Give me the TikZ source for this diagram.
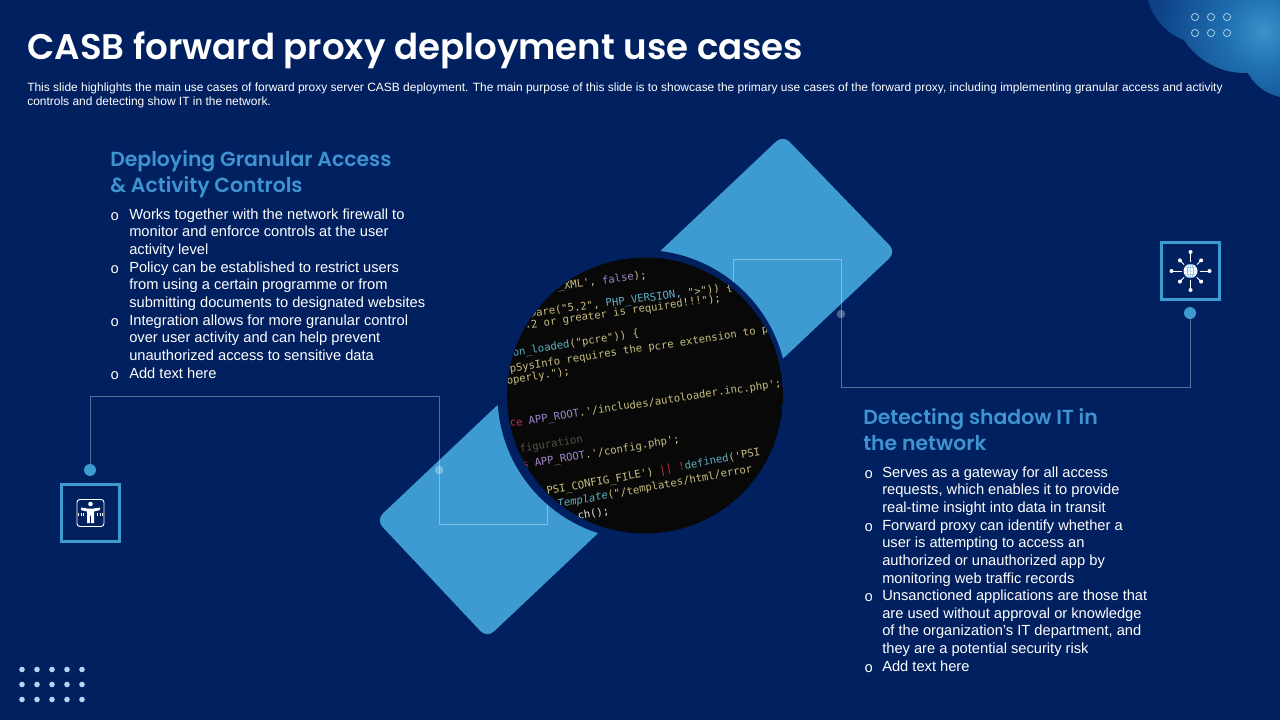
\documentclass[tikz,border=0pt]{standalone}
\usepackage{fontspec}
\setmainfont{Liberation Sans}
\newfontfamily\titlefont[BoldFont={Poppins SemiBold}]{Poppins}
\newfontfamily\codefont{DejaVu Sans Mono}
\newfontfamily\markfont{Liberation Mono}
\usetikzlibrary{calc}
\definecolor{bgnavy}{HTML}{002060}
\definecolor{barblue}{HTML}{3E9BD2}
\definecolor{headblue}{HTML}{3E93D0}
\definecolor{blobA}{HTML}{3A93CB}
\definecolor{blobB}{HTML}{1F6FB0}
\definecolor{blobC}{HTML}{0E4186}
\definecolor{blobD}{HTML}{022464}
\definecolor{ringblue}{HTML}{A9CDEB}
\definecolor{dotblue}{HTML}{B5D3F2}
\definecolor{cy}{HTML}{C8BE80}
\definecolor{cp}{HTML}{9F86CC}
\definecolor{ct}{HTML}{5FB0C4}
\definecolor{cr}{HTML}{C2304C}
\definecolor{cg}{HTML}{55533F}
\definecolor{cw}{HTML}{E4E4E0}
\pgfdeclareradialshading{blobshade}{\pgfpoint{0bp}{0bp}}{color(0bp)=(blobA); color(7bp)=(blobB); color(20bp)=(blobC); color(50bp)=(blobD)}
\tikzset{
  titletext/.style={anchor=base west,text=white,inner sep=0pt,font=\titlefont\bfseries\fontsize{26.7}{32}\selectfont},
  introtext/.style={anchor=north west,text=white,inner sep=0pt,align=left,font=\fontsize{8.98}{10.8}\selectfont},
  headtext/.style={anchor=north west,text=headblue,inner sep=0pt,align=left,font=\titlefont\bfseries\fontsize{15.3}{19.5}\selectfont},
  bodytext/.style={anchor=north west,text=white,inner sep=0pt,align=left,font=\fontsize{11}{13.2}\selectfont},
  bulletmark/.style={anchor=north west,text=white,inner sep=0pt,font=\markfont\fontsize{11}{13.2}\selectfont},
  codeline/.style={anchor=base west,inner sep=0pt,rotate=#1,font=\codefont\fontsize{7.95}{9}\selectfont},
  wire/.style={draw=white,draw opacity=.35,line width=.7pt},
  iconbox/.style={draw=barblue,line width=2.3pt,minimum width=43.5pt,minimum height=43pt,inner sep=0pt},
  enddot/.style={circle,fill=barblue,minimum size=9pt,inner sep=0pt},
  softdot/.style={circle,fill=white,fill opacity=.3,minimum size=6.5pt,inner sep=0pt},
  gridring/.style={draw=ringblue,line width=.6pt},
  griddot/.style={fill=dotblue},
  icon/.style={draw=white,line width=.7pt,line cap=round},
}
\begin{document}
\begin{tikzpicture}[x=.75pt,y=-.75pt]
\useasboundingbox (0,0) rectangle (1280,720);
\fill[bgnavy] (0,0) rectangle (1280,720);
% top-right glow
\begin{scope}
  \clip (1205,-15) circle (59) (1245,0) circle (73) (1290,50) circle (48);
  \shade[shading=blobshade] (1263,31) circle (135);
\end{scope}
\foreach \x in {1195,1211,1227} \foreach \y in {17,33}
  \draw[gridring] (\x,\y) circle (3.6);
% bottom-left dots
\foreach \x in {22,37,52,67,82} \foreach \y in {669.5,684.5,699.5}
  \fill[griddot] (\x,\y) circle (2.8);
% title and intro
\node[titletext] (title) at (27,60) {CASB forward proxy deployment use cases};
\node[introtext] (intro) at (27,82.5) {This slide highlights the main use cases of forward proxy server CASB deployment. The main purpose of this slide is to showcase the primary use cases of the forward proxy,  including implementing granular access and activity\\controls and detecting show IT in the network.};
% diagonal bar
\fill[barblue,rounded corners=7pt] (783,135) -- (896,252) -- (487,638) -- (376,520) -- cycle;
% connectors
\node[iconbox] (lbox) at (90.5,513) {};
\node[iconbox] (rbox) at (1190.5,271) {};
\node[enddot] (ldot) at (90,470) {};
\node[enddot] (rdot) at (1190,313) {};
\coordinate (lend) at (547,480);
\coordinate (rend) at (733,300);
\draw[wire] (ldot) -- (90,396) -- (439,396) -- (439,524) -- (547,524) -- (lend);
\draw[wire] (rdot) -- (1190,387) -- (841,387) -- (841,259) -- (733,259) -- (rend);
\node[softdot] (lsoft) at (439,470) {};
\node[softdot] (rsoft) at (841,314) {};
% code circle
\fill[bgnavy] (642.5,395) circle (145);
\begin{scope}
  \clip (645,395.5) circle (138);
  \fill[black!97!white] (645,395.5) circle (138);
  \node[codeline=7.5] (c1) at (558,290) {\textcolor{cy}{\_XML',} \textcolor{cp}{false}\textcolor{cy}{);}};
  \node[codeline=7.5] (c2) at (530,317) {\textcolor{cy}{pare("5.2",} \textcolor{ct}{PHP\_VERSION,} \textcolor{cy}{">")) \{}};
  \node[codeline=8] (c3) at (525,329) {\textcolor{cy}{.2 or greater is required!!!");}};
  \node[codeline=9] (c4) at (513,357) {\textcolor{ct}{on\_loaded}\textcolor{cy}{("pcre")) \{}};
  \node[codeline=9] (c5) at (510,373) {\textcolor{cy}{pSysInfo requires the pcre extension to ph}};
  \node[codeline=9] (c6) at (507,385) {\textcolor{cy}{operly.");}};
  \node[codeline=8.5] (c7) at (510,427) {\textcolor{cr}{ce} \textcolor{cp}{APP\_ROOT}\textcolor{cy}{.'/includes/autoloader.inc.php';}};
  \node[codeline=9.5] (c8) at (520,453) {\textcolor{cg}{figuration}};
  \node[codeline=9.5] (c9) at (522.5,469) {\textcolor{cr}{s} \textcolor{cp}{APP\_ROOT}\textcolor{cy}{.'/config.php';}};
  \node[codeline=10.5] (c10) at (547,495) {\textcolor{cy}{PSI\_CONFIG\_FILE')} \textcolor{cr}{|| !}\textcolor{ct}{defined}\textcolor{cy}{('PSI}};
  \node[codeline=10.5] (c11) at (558,508) {\textcolor{ct}{\itshape Template}\textcolor{cy}{("/templates/html/error}};
  \node[codeline=10.5] (c12) at (578,520) {\textcolor{cw}{ch();}};
\end{scope}
% left text
\node[headtext] (lhead) at (110,150) {Deploying Granular Access\\\& Activity Controls};
\foreach \n/\y in {a/212,b/265,c/318,d/371} \node[bulletmark] (lm\n) at (110,\y) {o};
\node[bodytext] (l1) at (129,208.5) {Works together with the network firewall to\\monitor and enforce controls at the user\\activity level};
\node[bodytext] (l2) at (129,261.5) {Policy can be established to restrict users\\from using a certain programme or from\\submitting documents to designated websites};
\node[bodytext] (l3) at (129,314.5) {Integration allows for more granular control\\over user activity and can help prevent\\unauthorized access to sensitive data};
\node[bodytext] (l4) at (129,367.5) {Add text here};
% right text
\node[headtext] (rhead) at (863,408) {Detecting shadow IT in\\the network};
\foreach \n/\y in {a/470,b/523,c/593,d/664} \node[bulletmark] (rm\n) at (864,\y) {o};
\node[bodytext] (r1) at (882,466.5) {Serves as a gateway for all access\\requests, which enables it to provide\\real-time insight into data in transit};
\node[bodytext] (r2) at (882,519.5) {Forward proxy can identify whether a\\user is attempting to access an\\authorized or unauthorized app by\\monitoring web traffic records};
\node[bodytext] (r3) at (882,589.5) {Unsanctioned applications are those that\\are used without approval or knowledge\\of the organization's IT department, and\\they are a potential security risk};
\node[bodytext] (r4) at (882,660.5) {Add text here};
% right icon: globe with spokes
\begin{scope}[shift={(1190.5,271)}]
  \foreach \a/\r in {0/19,45/15,90/19,135/15,180/19,225/15,270/19,315/15} {
    \draw[draw=white,line width=.7pt] (\a:9) -- (\a:\r);
    \fill[white] (\a:\r) circle (2);
  }
  \fill[white] (0,0) circle (7);
  \draw[draw=headblue,line width=.3pt] (0,0) ellipse (3 and 7) (-7,0) -- (7,0) (-6,-3.5) -- (6,-3.5) (-6,3.5) -- (6,3.5) (0,-7) -- (0,7);
\end{scope}
% left icon: person with measuring ticks
\begin{scope}[shift={(90.5,513)}]
  \draw[icon,rounded corners=2.2pt] (-13.5,-13.5) rectangle (13.5,13.5);
  \fill[white] (0,-9) circle (2.3);
  \fill[white] (-9.5,-5.5) -- (-3,-4.5) -- (3,-4.5) -- (9.5,-5.5) -- (9.5,-3) -- (3.5,-1.5) -- (3.5,10) -- (.7,10) -- (.7,2.5) -- (-.7,2.5) -- (-.7,10) -- (-3.5,10) -- (-3.5,-1.5) -- (-9.5,-3) -- cycle;
  \foreach \x in {-12,-9.5,-7,7,9.5,12} \draw[draw=white,line width=.4pt] (\x,0) -- (\x,3);
\end{scope}
\end{tikzpicture}
\end{document}
